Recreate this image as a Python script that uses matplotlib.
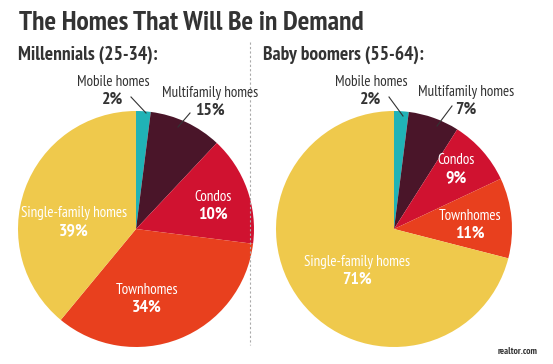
import matplotlib
matplotlib.use('Agg')
import matplotlib.pyplot as plt

# slice order: clockwise from 12 o'clock
categories = ['Mobile homes', 'Multifamily homes', 'Condos', 'Townhomes', 'Single-family homes']
colors = ['#20b3b6', '#4a1529', '#d01230', '#e8401e', '#efc94c']

# wedge sizes as drawn in the graphic
millennials_drawn = [2, 10, 15, 34, 39]
boomers_drawn = [2, 7, 9, 11, 71]
# percentages as printed on the graphic
millennials_pct = ['2%', '15%', '10%', '34%', '39%']
boomers_pct = ['2%', '7%', '9%', '11%', '71%']

W, H = 553, 364
plt.rcParams['font.family'] = ['PT Sans Narrow', 'DejaVu Sans']

fig = plt.figure(figsize=(W / 100, H / 100), dpi=100)
ax = fig.add_axes([0, 0, 1, 1])


def Y(py):
    return H - py


def draw_pie(values, cx, cy, r):
    ax.pie(values, colors=colors, startangle=90, counterclock=False,
           center=(cx, Y(cy)), radius=r, wedgeprops=dict(linewidth=0))


draw_pie(millennials_drawn, 136, 229, 118)
draw_pie(boomers_drawn, 394, 229, 118)

ax.set_xlim(0, W)
ax.set_ylim(0, H)
ax.set_aspect('equal')
ax.axis('off')

dark = '#333333'
ax.text(19, Y(23), 'The Homes That Will Be in Demand', fontsize=19.8,
        fontweight='bold', color=dark, va='center', ha='left')
ax.text(18, Y(55), 'Millennials (25-34):', fontsize=14,
        fontweight='bold', color=dark, va='center', ha='left')
ax.text(263, Y(55), 'Baby boomers (55-64):', fontsize=14,
        fontweight='bold', color=dark, va='center', ha='left')

# divider
ax.plot([250, 250], [Y(42), Y(345)], color='#aaaaaa', lw=0.8, ls=(0, (2, 2)))


def label(x, y, name, pct, color, size=10.8):
    ax.text(x, Y(y), name, fontsize=size, color=color, ha='center', va='center')
    ax.text(x, Y(y + 18), pct, fontsize=size + 2, color=color, ha='center',
            va='center', fontweight='bold')


# millennials labels
label(113, 82, categories[0], millennials_pct[0], dark)
ax.plot([131, 146], [Y(97), Y(113)], color=dark, lw=0.8)
label(210, 93, categories[1], millennials_pct[1], dark)
ax.plot([190, 178], [Y(113), Y(127)], color=dark, lw=0.8)
label(213, 197, categories[2], millennials_pct[2], 'white')
label(147, 290, categories[3], millennials_pct[3], 'white')
label(74, 213, categories[4], millennials_pct[4], 'white')

# boomers labels
label(371, 82, categories[0], boomers_pct[0], dark)
ax.plot([389, 403], [Y(97), Y(116)], color=dark, lw=0.8)
label(466, 92, categories[1], boomers_pct[1], dark)
ax.plot([452, 437], [Y(106), Y(126)], color=dark, lw=0.8)
label(456, 160, categories[2], boomers_pct[2], 'white')
label(470, 216, categories[3], boomers_pct[3], 'white')
label(357, 262, categories[4], boomers_pct[4], 'white')

ax.text(518, Y(352), 'realtor.com', fontsize=7, color=dark, ha='center',
        va='center', fontweight='bold')

fig.savefig('out.png', dpi=100, facecolor='white')
